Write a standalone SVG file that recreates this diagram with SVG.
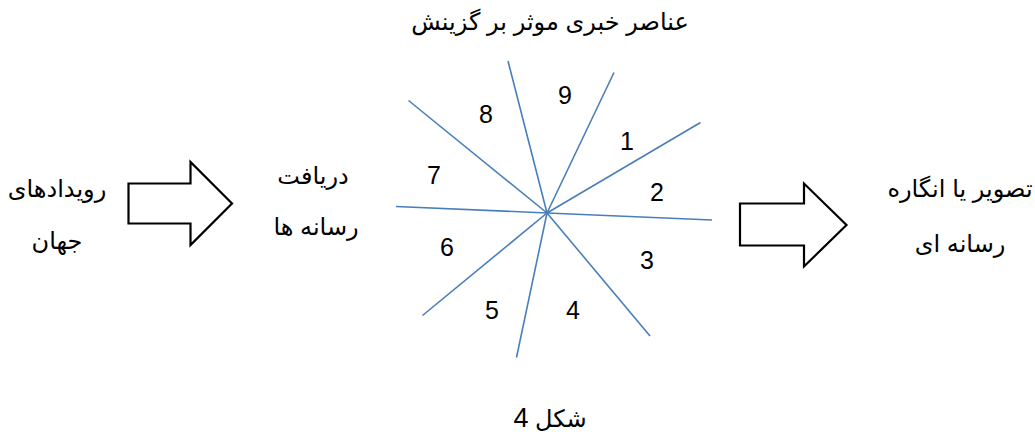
<svg xmlns="http://www.w3.org/2000/svg" width="1035" height="439" viewBox="0 0 1035 439">
<style>
text{font-family:"Liberation Sans","DejaVu Sans","Noto Sans",sans-serif;fill:#000;text-anchor:middle}
.lbl{font-size:24px}
.num{font-size:25px}
.big{font-size:27px}
.ray{stroke:#4a7ebb;stroke-width:1.6;fill:none}
.arr{fill:#fff;stroke:#000;stroke-width:2.2;stroke-linejoin:miter}
</style>
<rect width="1035" height="439" fill="#fff"/>
<g id="title"><text class="lbl" x="550" y="30">عناصر خبری موثر بر گزینش</text></g>
<g id="world-events"><text class="lbl" x="57" y="197">رویدادهای</text><text class="lbl" x="57" y="249">جهان</text></g>
<g id="arrow-left"><polygon class="arr" points="128.5,183.5 190.5,183.5 190.5,162 232,203.5 190.5,245 190.5,223.5 128.5,223.5"/></g>
<g id="media-receive"><text class="lbl" x="313" y="184">دریافت</text><text class="lbl" x="316" y="235">رسانه ها</text></g>
<g id="star">
<g id="connectors">
<line class="ray" x1="547" y1="213" x2="508" y2="61"/>
<line class="ray" x1="547" y1="213" x2="614" y2="72.5"/>
<line class="ray" x1="547" y1="213" x2="700.5" y2="122.5"/>
<line class="ray" x1="547" y1="213" x2="712" y2="220"/>
<line class="ray" x1="547" y1="213" x2="396" y2="206.5"/>
<line class="ray" x1="547" y1="213" x2="408.5" y2="100.5"/>
<line class="ray" x1="547" y1="213" x2="650" y2="336"/>
<line class="ray" x1="547" y1="213" x2="516.5" y2="357.5"/>
<line class="ray" x1="547" y1="213" x2="422.5" y2="315.5"/>
</g>
<text class="num" x="565" y="104">9</text>
<text class="num" x="486" y="123">8</text>
<text class="num" x="627" y="149.5">1</text>
<text class="num" x="657" y="200.5">2</text>
<text class="num" x="434" y="184">7</text>
<text class="num" x="447" y="256">6</text>
<text class="num" x="647" y="269">3</text>
<text class="num" x="492" y="319">5</text>
<text class="num" x="573" y="319">4</text>
</g>
<g id="arrow-right"><polygon class="arr" points="740,203.5 804,203.5 804,183.5 846.5,225 804,266.5 804,245.5 740,245.5"/></g>
<g id="media-image"><text class="lbl" x="960" y="197">تصویر یا انگاره</text><text class="lbl" x="960" y="252">رسانه ای</text></g>
<g id="caption"><text class="lbl" x="550" y="427">شکل <tspan class="big">4</tspan></text></g>
</svg>
